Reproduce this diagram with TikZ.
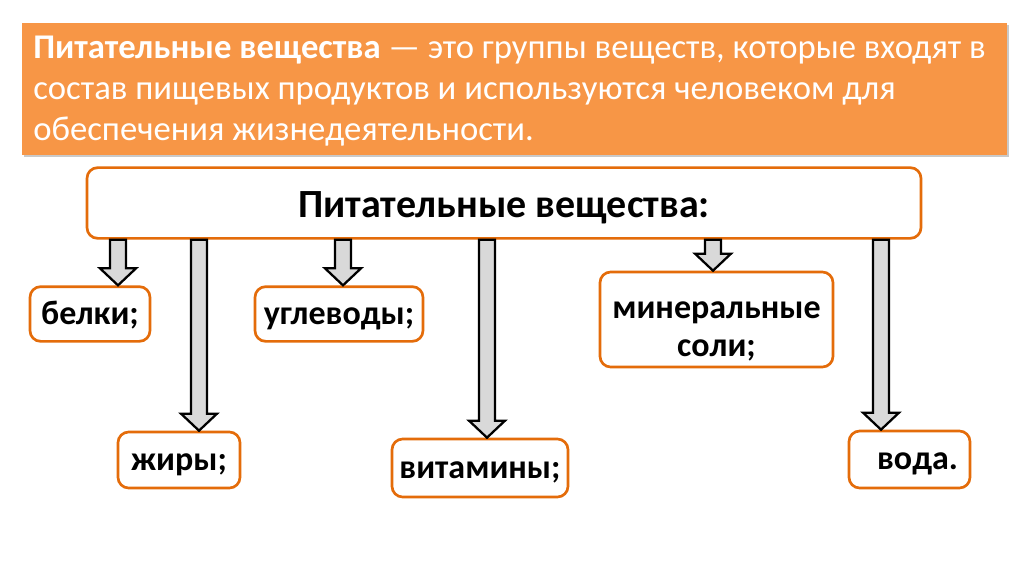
\documentclass[tikz,border=0pt]{standalone}
\usepackage{fontspec}
\setmainfont{Carlito}
\usetikzlibrary{calc,shadows}
\definecolor{orfill}{HTML}{F79646}
\definecolor{orline}{HTML}{E46C0A}
\definecolor{arrfill}{HTML}{D9D9D9}
\tikzset{
  defbox/.style={rectangle, fill=orfill, inner sep=0pt, minimum width=738.75pt, minimum height=99pt,
    drop shadow={opacity=0.35, shadow xshift=1.5pt, shadow yshift=-1.5pt, fill=black!60}},
  deftext/.style={anchor=north west, inner sep=0pt, align=left, text=white,
    font=\fontsize{26}{30.7}\selectfont},
  titlebox/.style={draw=orline, line width=2pt, rounded corners=8pt, fill=white, inner sep=0pt,
    minimum width=625.5pt, minimum height=53pt, text height=25pt, text depth=3pt,
    font=\fontsize{30}{34}\selectfont\bfseries},
  catbox/.style={draw=orline, line width=2pt, rounded corners=8pt, fill=white, inner sep=0pt,
    text height=18.5pt, text depth=3.5pt, font=\fontsize{25.5}{28}\selectfont\bfseries},
  cattext/.style={inner sep=0pt, align=center, font=\fontsize{25.5}{28}\selectfont\bfseries},
  barrow/.style={draw=black, line width=1.7pt, fill=arrfill, line join=miter},
}
\newcommand\blockarr[2]{%
  \draw[barrow] ($(#1)+(-8,0)$) -- ($(#2)+(-8,-17)$) -- ($(#2)+(-18,-17)$) -- (#2)
     -- ($(#2)+(18,-17)$) -- ($(#2)+(8,-17)$) -- ($(#1)+(8,0)$) -- cycle;}
\begin{document}
\begin{tikzpicture}[x=0.75pt, y=-0.75pt]
\useasboundingbox[fill=white] (0,0) rectangle (1024,574);
% definition box
\node[defbox] (def) at (514.5,89) {};
\node[deftext] (deft) at (33,36) {\textbf{Питательные вещества} — это группы веществ, которые входят в\\
состав пищевых продуктов и используются человеком для\\
обеспечения жизнедеятельности.};
% title box
\node[titlebox] (main) at (504,203) {Питательные вещества:};
% category boxes
\node[catbox, minimum width=90pt, minimum height=41pt] (belki) at (90,314) {белки;};
\node[catbox, minimum width=126pt, minimum height=41pt] (ugl) at (339,314) {углеводы;};
\node[catbox, minimum width=91.5pt, minimum height=42pt] (zhiry) at (179,460) {жиры;};
\node[catbox, minimum width=132pt, minimum height=43.5pt] (vit) at (480,468) {витамины;};
\node[catbox, minimum width=174.75pt, minimum height=71.25pt] (min) at (716.5,319.5) {};
\node[cattext, anchor=north] (mint) at (716.5,301) {минеральные\\[1pt]соли;};
\node[catbox, minimum width=90.75pt, minimum height=42.75pt] (voda) at (909.5,459.5) {\hspace*{12pt}вода.};
% arrow x positions
\coordinate (x1) at (118,0);
\coordinate (x2) at (199,0);
\coordinate (x3) at (343,0);
\coordinate (x4) at (487,0);
\coordinate (x5) at (713,0);
\coordinate (x6) at (881,0);
\foreach \i/\t in {1/belki,2/zhiry,3/ugl,4/vit,5/min,6/voda}{
  \coordinate (s\i) at (x\i |- main.south);
  \coordinate (t\i) at (x\i |- \t.north);
}
\blockarr{s1}{t1}
\blockarr{s2}{t2}
\blockarr{s3}{t3}
\blockarr{s4}{t4}
\blockarr{s5}{t5}
\blockarr{s6}{t6}
\end{tikzpicture}
\end{document}
